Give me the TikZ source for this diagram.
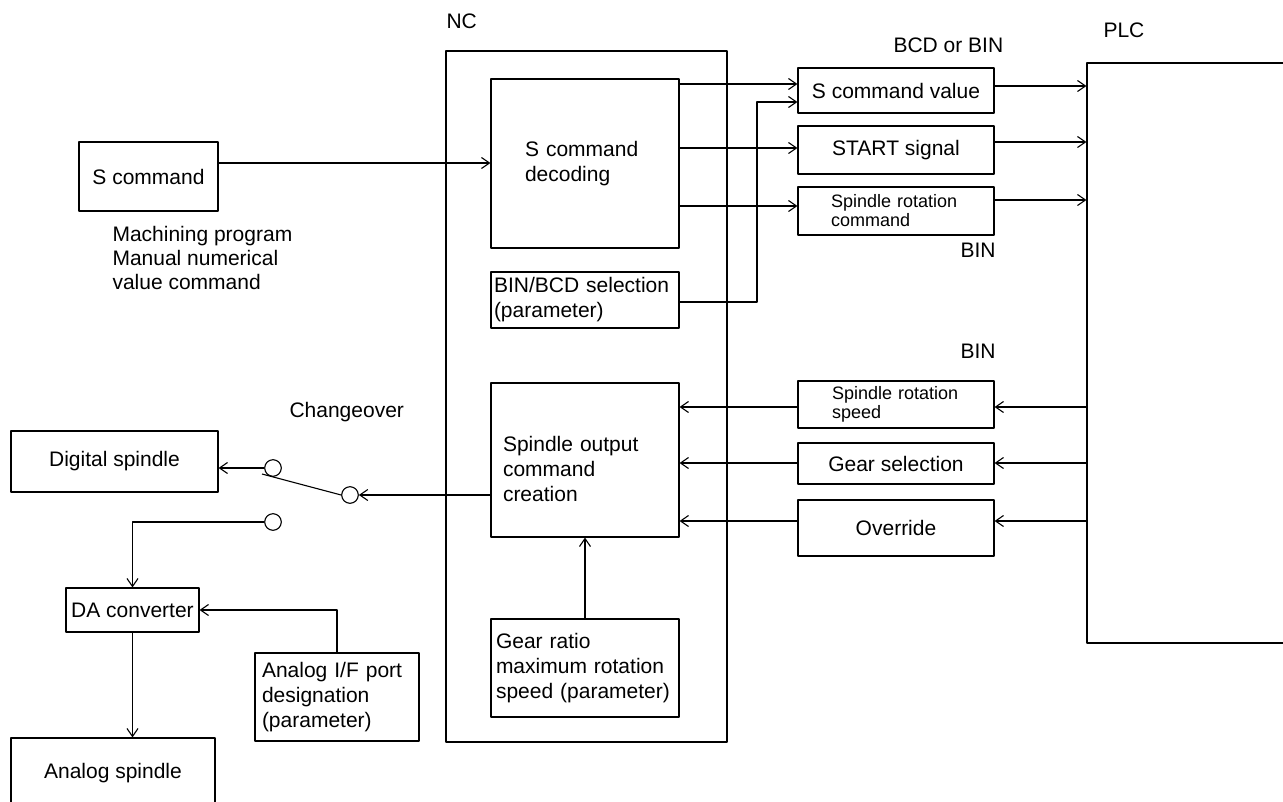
\documentclass[tikz,border=0pt]{standalone}
\usepackage{fontspec}
\setmainfont{Liberation Sans}
\usetikzlibrary{arrows.meta, calc}

\tikzset{
    box/.style={draw, line width=1.1pt, inner sep=0pt, align=center},
    lbox/.style={draw, line width=1.1pt, inner ysep=0pt, align=left},
    sw/.style={draw, circle, line width=1.1pt, inner sep=0pt, minimum size=16.6pt},
    lbl/.style={anchor=base west, inner sep=0pt},
    small/.style={font=\fontsize{18}{19}\selectfont}
}

\begin{document}
\begin{tikzpicture}[x=1pt, y=-1pt, line width=1.1pt, line join=round,
    font=\fontsize{21}{25}\selectfont,
    >={Straight Barb[length=8pt, width=11pt]}]
    \useasboundingbox (0,0) rectangle (1283,801);

    % frames
    \node[box, minimum width=281, minimum height=691] (nc) at (586.5,396.5) {};
    \node[box, minimum width=213, minimum height=580] (plc) at (1193.5,353) {};

    % NC blocks
    \node[lbox, text width=120, inner xsep=34, minimum height=169] (dec) at (585,163.5) {S command\\decoding};
    \node[lbox, text width=182, inner xsep=3, minimum height=56] (binsel) at (585,300) {BIN/BCD selection\\(parameter)};
    \node[lbox, text width=164, inner xsep=12, minimum height=154] (sout) at (585,460) {\rule{0pt}{33pt}Spindle output\\command\\creation};
    \node[lbox, text width=178, inner xsep=5, minimum height=98] (gratio) at (585,668) {Gear ratio\\maximum rotation\\speed (parameter)};

    % signals
    \node[box, minimum width=196, minimum height=45] (scv) at (896,90.5) {S command value};
    \node[box, minimum width=196, minimum height=48] (start) at (896,150) {START signal};
    \node[lbox, small, text width=130, inner xsep=33, minimum height=48] (src) at (896,211) {Spindle rotation\\command};
    \node[lbox, small, text width=128, inner xsep=34, minimum height=47] (srs) at (896,404.5) {Spindle rotation\\speed};
    \node[box, minimum width=196, minimum height=41] (gsel) at (896,463.5) {Gear selection};
    \node[box, minimum width=196, minimum height=56] (ovr) at (896,528) {Override};

    % left side
    \node[box, minimum width=139, minimum height=69] (scmd) at (148.5,176.5) {S command};
    \node[box, minimum width=207, minimum height=61] (dig) at (114.5,461.5) {Digital spindle};
    \node[box, minimum width=133, minimum height=44] (da) at (132.5,610) {DA converter};
    \node[lbox, text width=150, inner xsep=7, minimum height=88] (aif) at (337,697) {Analog I/F port\\designation\\(parameter)};
    \node[box, minimum width=204, minimum height=70] (ana) at (113,773) {Analog spindle};

    % switch
    \node[sw] (sw1) at (273,468) {};
    \node[sw] (swc) at (350,495) {};
    \node[sw] (sw2) at (273,522) {};
    \coordinate (blade) at (262,474);

    % labels
    \node[lbl] (nclbl) at (446,28) {NC};
    \node[lbl] (plclbl) at (1103,37) {PLC};
    \node[lbl] (bcdlbl) at (893,52) {BCD or BIN};
    \node[lbl] (binlbla) at (960,257) {BIN};
    \node[lbl] (binlblb) at (960,358) {BIN};
    \node[lbl] (chglbl) at (289,417) {Changeover};
    \node[lbl, align=left, font=\fontsize{21}{24}\selectfont] (proglbl) at (112,289) {Machining program\\Manual numerical\\value command};

    % S command into NC
    \draw[->] (scmd.east |- 0,163) -- (dec.west |- 0,163);

    % decoding outputs
    \draw[->] (dec.east |- 0,84) -- (scv.west |- 0,84);
    \draw[->] (dec.east |- 0,148) -- (start.west |- 0,148);
    \draw[->] (dec.east |- 0,206) -- (src.west |- 0,206);
    \draw[->] (binsel.east |- 0,302) -- (757,302) -- (757,102) -- (scv.west |- 0,102);

    % to PLC
    \draw[->] (scv.east |- 0,86) -- (plc.west |- 0,86);
    \draw[->] (start.east |- 0,142) -- (plc.west |- 0,142);
    \draw[->] (src.east |- 0,200) -- (plc.west |- 0,200);

    % from PLC
    \draw[->] (plc.west |- 0,407) -- (srs.east |- 0,407);
    \draw[->] (plc.west |- 0,463) -- (gsel.east |- 0,463);
    \draw[->] (plc.west |- 0,521) -- (ovr.east |- 0,521);
    \draw[->] (srs.west |- 0,407) -- (sout.east |- 0,407);
    \draw[->] (gsel.west |- 0,463) -- (sout.east |- 0,463);
    \draw[->] (ovr.west |- 0,521) -- (sout.east |- 0,521);
    \draw[->] (gratio.north) -- (sout.south);

    % spindle side
    \draw[->] (sout.west |- swc) -- (swc.east);
    \draw (swc.west) -- (blade);
    \draw[->] (sw1.west) -- (sw1.west -| dig.east);
    \draw[->] (sw2.west) -| (da.north);
    \draw[->] (aif.north) |- (da.east);
    \draw[->] (da.south) -- (da.south |- ana.north);
\end{tikzpicture}
\end{document}
